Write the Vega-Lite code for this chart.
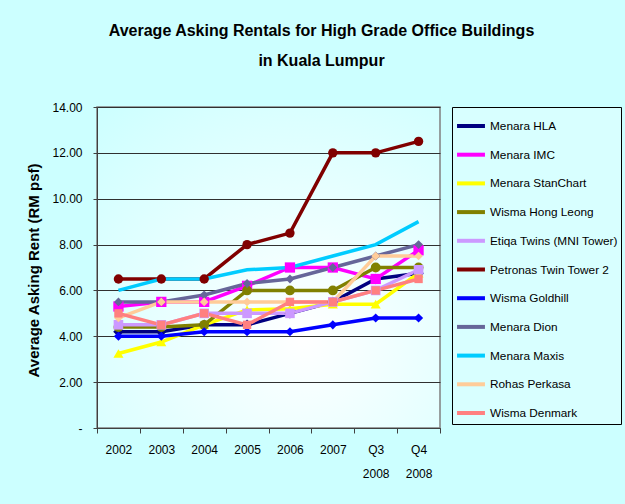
{
  "$schema": "https://vega.github.io/schema/vega-lite/v6.json",
  "width": 343,
  "height": 321,
  "autosize": {"type": "none"},
  "padding": {"left": 97, "top": 107, "right": 185, "bottom": 76},
  "background": "#CCFFFF",
  "title": {
    "text": ["Average Asking Rentals for High Grade Office Buildings", "in Kuala Lumpur"],
    "anchor": "middle",
    "frame": "group",
    "dx": 53,
    "font": "Liberation Sans",
    "fontSize": 16,
    "fontWeight": "bold",
    "color": "#000000",
    "lineHeight": 30,
    "offset": 32
  },
  "data": {
    "values": [
      {"s": "Menara HLA", "p": "2002", "v": 4.2}, {"s": "Menara HLA", "p": "2003", "v": 4.2}, {"s": "Menara HLA", "p": "2004", "v": 4.5}, {"s": "Menara HLA", "p": "2005", "v": 4.5}, {"s": "Menara HLA", "p": "2006", "v": 5.0}, {"s": "Menara HLA", "p": "2007", "v": 5.5}, {"s": "Menara HLA", "p": "Q3 2008", "v": 6.5}, {"s": "Menara HLA", "p": "Q4 2008", "v": 6.75},
      {"s": "Menara IMC", "p": "2002", "v": 5.3}, {"s": "Menara IMC", "p": "2003", "v": 5.5}, {"s": "Menara IMC", "p": "2004", "v": 5.5}, {"s": "Menara IMC", "p": "2005", "v": 6.2}, {"s": "Menara IMC", "p": "2006", "v": 7.0}, {"s": "Menara IMC", "p": "2007", "v": 7.0}, {"s": "Menara IMC", "p": "Q3 2008", "v": 6.5}, {"s": "Menara IMC", "p": "Q4 2008", "v": 7.75},
      {"s": "Menara StanChart", "p": "2002", "v": 3.25}, {"s": "Menara StanChart", "p": "2003", "v": 3.75}, {"s": "Menara StanChart", "p": "2004", "v": 4.5}, {"s": "Menara StanChart", "p": "2005", "v": 5.15}, {"s": "Menara StanChart", "p": "2006", "v": 5.2}, {"s": "Menara StanChart", "p": "2007", "v": 5.4}, {"s": "Menara StanChart", "p": "Q3 2008", "v": 5.4}, {"s": "Menara StanChart", "p": "Q4 2008", "v": 6.75},
      {"s": "Wisma Hong Leong", "p": "2002", "v": 4.4}, {"s": "Wisma Hong Leong", "p": "2003", "v": 4.4}, {"s": "Wisma Hong Leong", "p": "2004", "v": 4.5}, {"s": "Wisma Hong Leong", "p": "2005", "v": 6.0}, {"s": "Wisma Hong Leong", "p": "2006", "v": 6.0}, {"s": "Wisma Hong Leong", "p": "2007", "v": 6.0}, {"s": "Wisma Hong Leong", "p": "Q3 2008", "v": 7.0}, {"s": "Wisma Hong Leong", "p": "Q4 2008", "v": 7.0},
      {"s": "Etiqa Twins (MNI Tower)", "p": "2002", "v": 4.5}, {"s": "Etiqa Twins (MNI Tower)", "p": "2003", "v": 4.5}, {"s": "Etiqa Twins (MNI Tower)", "p": "2004", "v": 5.0}, {"s": "Etiqa Twins (MNI Tower)", "p": "2005", "v": 5.0}, {"s": "Etiqa Twins (MNI Tower)", "p": "2006", "v": 5.0}, {"s": "Etiqa Twins (MNI Tower)", "p": "2007", "v": 5.5}, {"s": "Etiqa Twins (MNI Tower)", "p": "Q3 2008", "v": 6.0}, {"s": "Etiqa Twins (MNI Tower)", "p": "Q4 2008", "v": 6.9},
      {"s": "Petronas Twin Tower 2", "p": "2002", "v": 6.5}, {"s": "Petronas Twin Tower 2", "p": "2003", "v": 6.5}, {"s": "Petronas Twin Tower 2", "p": "2004", "v": 6.5}, {"s": "Petronas Twin Tower 2", "p": "2005", "v": 8.0}, {"s": "Petronas Twin Tower 2", "p": "2006", "v": 8.5}, {"s": "Petronas Twin Tower 2", "p": "2007", "v": 12.0}, {"s": "Petronas Twin Tower 2", "p": "Q3 2008", "v": 12.0}, {"s": "Petronas Twin Tower 2", "p": "Q4 2008", "v": 12.5},
      {"s": "Wisma Goldhill", "p": "2002", "v": 4.0}, {"s": "Wisma Goldhill", "p": "2003", "v": 4.0}, {"s": "Wisma Goldhill", "p": "2004", "v": 4.2}, {"s": "Wisma Goldhill", "p": "2005", "v": 4.2}, {"s": "Wisma Goldhill", "p": "2006", "v": 4.2}, {"s": "Wisma Goldhill", "p": "2007", "v": 4.5}, {"s": "Wisma Goldhill", "p": "Q3 2008", "v": 4.8}, {"s": "Wisma Goldhill", "p": "Q4 2008", "v": 4.8},
      {"s": "Menara Dion", "p": "2002", "v": 5.5}, {"s": "Menara Dion", "p": "2003", "v": 5.5}, {"s": "Menara Dion", "p": "2004", "v": 5.8}, {"s": "Menara Dion", "p": "2005", "v": 6.3}, {"s": "Menara Dion", "p": "2006", "v": 6.5}, {"s": "Menara Dion", "p": "2007", "v": 7.0}, {"s": "Menara Dion", "p": "Q3 2008", "v": 7.5}, {"s": "Menara Dion", "p": "Q4 2008", "v": 8.0},
      {"s": "Menara Maxis", "p": "2002", "v": 6.0}, {"s": "Menara Maxis", "p": "2003", "v": 6.5}, {"s": "Menara Maxis", "p": "2004", "v": 6.5}, {"s": "Menara Maxis", "p": "2005", "v": 6.9}, {"s": "Menara Maxis", "p": "2006", "v": 7.0}, {"s": "Menara Maxis", "p": "2007", "v": 7.5}, {"s": "Menara Maxis", "p": "Q3 2008", "v": 8.0}, {"s": "Menara Maxis", "p": "Q4 2008", "v": 9.0},
      {"s": "Rohas Perkasa", "p": "2002", "v": 4.8}, {"s": "Rohas Perkasa", "p": "2003", "v": 5.5}, {"s": "Rohas Perkasa", "p": "2004", "v": 5.5}, {"s": "Rohas Perkasa", "p": "2005", "v": 5.5}, {"s": "Rohas Perkasa", "p": "2006", "v": 5.5}, {"s": "Rohas Perkasa", "p": "2007", "v": 5.5}, {"s": "Rohas Perkasa", "p": "Q3 2008", "v": 7.5}, {"s": "Rohas Perkasa", "p": "Q4 2008", "v": 7.5},
      {"s": "Wisma Denmark", "p": "2002", "v": 5.0}, {"s": "Wisma Denmark", "p": "2003", "v": 4.5}, {"s": "Wisma Denmark", "p": "2004", "v": 5.0}, {"s": "Wisma Denmark", "p": "2005", "v": 4.5}, {"s": "Wisma Denmark", "p": "2006", "v": 5.5}, {"s": "Wisma Denmark", "p": "2007", "v": 5.5}, {"s": "Wisma Denmark", "p": "Q3 2008", "v": 6.0}, {"s": "Wisma Denmark", "p": "Q4 2008", "v": 6.5}
    ]
  },
  "encoding": {
    "x": {
      "field": "p",
      "type": "nominal",
      "sort": ["2002", "2003", "2004", "2005", "2006", "2007", "Q3 2008", "Q4 2008"],
      "scale": {"type": "band", "paddingInner": 0, "paddingOuter": 0},
      "axis": {
        "title": null,
        "labelAngle": 0,
        "labelExpr": "split(datum.label, ' ')",
        "labelLineHeight": 24,
        "labelFont": "Liberation Sans",
        "labelFontSize": 12,
        "labelColor": "#000000",
        "labelPadding": 11,
        "tickBand": "extent",
        "tickSize": 5,
        "tickColor": "#404040",
        "domainColor": "#404040",
        "grid": false
      }
    },
    "y": {
      "field": "v",
      "type": "quantitative",
      "scale": {"domain": [0, 14], "nice": false},
      "axis": {
        "title": "Average Asking Rent (RM psf)",
        "titleFont": "Liberation Sans",
        "titleFontSize": 15,
        "titleFontWeight": "bold",
        "titleColor": "#000000",
        "titleX": -64,
        "titleY": 163,
        "titleAngle": -90,
        "titleAlign": "center",
        "titleBaseline": "middle",
        "values": [0, 2, 4, 6, 8, 10, 12, 14],
        "labelExpr": "datum.value == 0 ? '-' : format(datum.value, '.2f')",
        "labelFont": "Liberation Sans",
        "labelFontSize": 12,
        "labelColor": "#000000",
        "labelPadding": 11,
        "tickSize": 4,
        "tickColor": "#404040",
        "domainColor": "#404040",
        "gridColor": "#303030",
        "gridOpacity": 1
      }
    }
  },
  "layer": [
    {
      "mark": {"type": "line", "strokeWidth": 3.5},
      "encoding": {
        "color": {
          "field": "s",
          "type": "nominal",
          "sort": null,
          "scale": {
            "domain": ["Menara HLA", "Menara IMC", "Menara StanChart", "Wisma Hong Leong", "Etiqa Twins (MNI Tower)", "Petronas Twin Tower 2", "Wisma Goldhill", "Menara Dion", "Menara Maxis", "Rohas Perkasa", "Wisma Denmark"],
            "range": ["#000080", "#FF00FF", "#FFFF00", "#808000", "#CC99FF", "#800000", "#0000FF", "#666699", "#00CCFF", "#FFCC99", "#FF8080"]
          },
          "legend": {
            "title": null,
            "orient": "none",
            "legendX": 355,
            "legendY": 0,
            "symbolType": "stroke",
            "symbolSize": 780,
            "symbolStrokeWidth": 4,
            "rowPadding": 4.7,
            "padding": 3,
            "labelOffset": 3,
            "labelFont": "Liberation Sans",
            "labelFontSize": 11.8,
            "labelColor": "#000000",
            "labelLimit": 200,
            "strokeColor": "#000000",
            "fillColor": "#D8FFFF"
          }
        }
      }
    },
    {
      "transform": [{"filter": "datum.s != 'Menara Maxis'"}],
      "mark": {"type": "point", "filled": true, "opacity": 1},
      "encoding": {
        "color": {"field": "s", "type": "nominal", "legend": null},
        "shape": {
          "field": "s",
          "type": "nominal",
          "legend": null,
          "scale": {
            "domain": ["Menara HLA", "Menara IMC", "Menara StanChart", "Wisma Hong Leong", "Etiqa Twins (MNI Tower)", "Petronas Twin Tower 2", "Wisma Goldhill", "Menara Dion", "Rohas Perkasa", "Wisma Denmark"],
            "range": ["diamond", "square", "triangle-up", "circle", "square", "circle", "diamond", "diamond", "diamond", "square"]
          }
        },
        "size": {
          "field": "s",
          "type": "nominal",
          "legend": null,
          "scale": {
            "domain": ["Menara HLA", "Menara IMC", "Menara StanChart", "Wisma Hong Leong", "Etiqa Twins (MNI Tower)", "Petronas Twin Tower 2", "Wisma Goldhill", "Menara Dion", "Rohas Perkasa", "Wisma Denmark"],
            "range": [110, 70, 70, 50, 120, 60, 110, 70, 80, 90]
          }
        }
      }
    }
  ],
  "config": {
    "view": {
      "stroke": "#808080",
      "strokeWidth": 1.5,
      "fill": {
        "gradient": "radial",
        "x1": 0.6, "y1": 0.7, "r1": 0,
        "x2": 0.6, "y2": 0.7, "r2": 0.9,
        "stops": [{"offset": 0, "color": "#FFFFFF"}, {"offset": 1, "color": "#CCFFFF"}]
      }
    }
  }
}
